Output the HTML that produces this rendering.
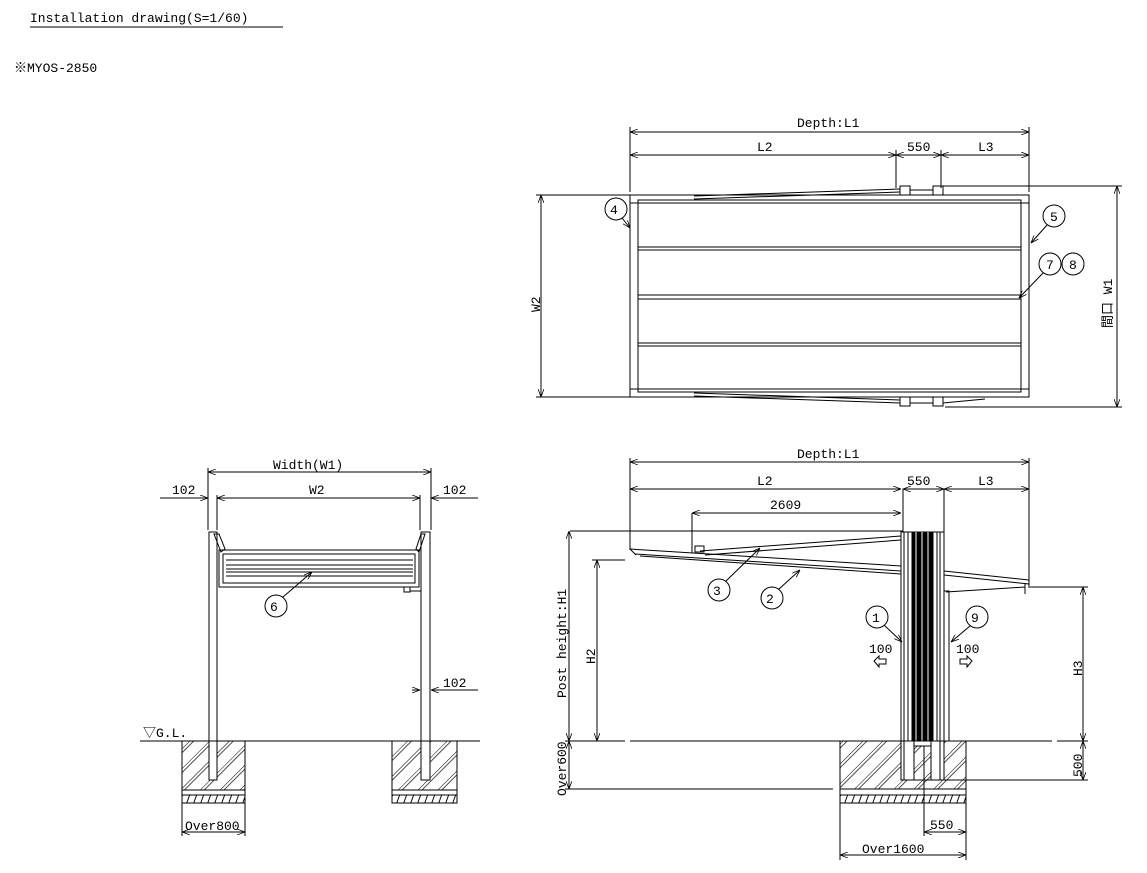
<!DOCTYPE html>
<html><head><meta charset="utf-8"><style>
html,body{margin:0;padding:0;background:#fff;}
svg{display:block;}
text{font-family:"Liberation Mono","Noto Sans CJK JP",monospace;font-size:13px;fill:#000;}
</style></head><body>
<svg width="1147" height="873" viewBox="0 0 1147 873" xmlns="http://www.w3.org/2000/svg">
<defs>
<marker id="a" markerWidth="8" markerHeight="6" refX="8" refY="3" orient="auto-start-reverse" markerUnits="userSpaceOnUse"><path d="M0,0 L8,3 L0,6" fill="none" stroke="#000" stroke-width="0.8"/></marker>
<pattern id="h" width="14" height="14" patternUnits="userSpaceOnUse" patternTransform="rotate(45)"><line x1="0" y1="0" x2="0" y2="14" stroke="#000" stroke-width="1"/><line x1="3" y1="0" x2="3" y2="14" stroke="#000" stroke-width="0.7"/></pattern>
<pattern id="g" width="7" height="8" patternUnits="userSpaceOnUse" patternTransform="skewX(-20)"><line x1="3" y1="0" x2="3" y2="8" stroke="#000" stroke-width="1"/></pattern>
</defs>
<g stroke="#000" fill="none" stroke-width="1">
<line x1="30" y1="27" x2="283" y2="27"/>

<line x1="630" y1="132" x2="1029" y2="132" marker-start="url(#a)" marker-end="url(#a)"/>
<line x1="630" y1="155" x2="896" y2="155" marker-start="url(#a)" marker-end="url(#a)"/>
<line x1="896" y1="155" x2="941" y2="155" marker-start="url(#a)" marker-end="url(#a)"/>
<line x1="941" y1="155" x2="1029" y2="155" marker-start="url(#a)" marker-end="url(#a)"/>
<line x1="630" y1="127" x2="630" y2="192"/>
<line x1="1029" y1="127" x2="1029" y2="192"/>
<line x1="896" y1="150" x2="896" y2="188"/>
<line x1="941" y1="150" x2="941" y2="188"/>
<rect x="630" y="195" width="399" height="202"/>
<rect x="638" y="200" width="383" height="192"/>
<line x1="630" y1="203" x2="1029" y2="203"/>
<line x1="630" y1="389" x2="1029" y2="389"/>
<line x1="638" y1="247" x2="1021" y2="247"/><line x1="638" y1="250" x2="1021" y2="250"/>
<line x1="638" y1="295" x2="1021" y2="295"/><line x1="638" y1="299" x2="1021" y2="299"/>
<line x1="638" y1="343" x2="1021" y2="343"/><line x1="638" y1="346" x2="1021" y2="346"/>
<line x1="694" y1="196" x2="900" y2="189"/><line x1="694" y1="199" x2="900" y2="192"/>
<rect x="900" y="186" width="10" height="9"/><rect x="933" y="186" width="10" height="9"/><line x1="910" y1="190" x2="933" y2="190"/>
<line x1="694" y1="396" x2="900" y2="403"/><line x1="694" y1="393" x2="900" y2="400"/>
<rect x="900" y="397" width="10" height="9"/><rect x="933" y="397" width="10" height="9"/><line x1="910" y1="403" x2="933" y2="403"/>
<line x1="943" y1="403" x2="985" y2="399"/>
<line x1="541" y1="195" x2="541" y2="397" marker-start="url(#a)" marker-end="url(#a)"/>
<line x1="536" y1="195" x2="630" y2="195"/><line x1="536" y1="397" x2="630" y2="397"/>
<line x1="1117" y1="186" x2="1117" y2="407" marker-start="url(#a)" marker-end="url(#a)"/>
<line x1="941" y1="186" x2="1122" y2="186"/><line x1="945" y1="407" x2="1122" y2="407"/>
<circle cx="616" cy="209" r="11"/><line x1="622" y1="218" x2="630" y2="228" marker-end="url(#a)"/>
<circle cx="1054" cy="216" r="11"/><line x1="1047" y1="225" x2="1031" y2="243" marker-end="url(#a)"/>
<circle cx="1050" cy="264" r="11"/><circle cx="1073" cy="264" r="11"/><line x1="1043" y1="273" x2="1019" y2="298" marker-end="url(#a)"/>

<line x1="208" y1="472" x2="431" y2="472" marker-start="url(#a)" marker-end="url(#a)"/>
<line x1="160" y1="498" x2="208" y2="498" marker-end="url(#a)"/>
<line x1="217" y1="498" x2="420" y2="498" marker-start="url(#a)" marker-end="url(#a)"/>
<line x1="478" y1="498" x2="431" y2="498" marker-end="url(#a)"/>
<line x1="208" y1="468" x2="208" y2="530"/><line x1="217" y1="495" x2="217" y2="530"/>
<line x1="420" y1="495" x2="420" y2="530"/><line x1="431" y1="468" x2="431" y2="530"/>
<rect x="209" y="532" width="8" height="248"/>
<rect x="421" y="532" width="9" height="248"/>
<path d="M214,534 L219,534 L225,549 L221,552 Z"/>
<path d="M425,534 L421,534 L416,549 L419,552 Z"/>
<rect x="219" y="550" width="200" height="37"/>
<rect x="223" y="554" width="192" height="29"/>
<line x1="226" y1="560" x2="413" y2="560"/><line x1="226" y1="565" x2="413" y2="565"/>
<line x1="226" y1="569" x2="413" y2="569"/><line x1="226" y1="572" x2="413" y2="572"/>
<line x1="226" y1="576" x2="413" y2="576"/>
<rect x="404" y="587" width="6" height="5"/><line x1="410" y1="591" x2="421" y2="591"/>
<circle cx="276" cy="606" r="11"/><line x1="283" y1="597" x2="312" y2="572" marker-end="url(#a)"/>
<line x1="478" y1="690" x2="431" y2="690" marker-end="url(#a)"/>
<line x1="412" y1="690" x2="420" y2="690" marker-end="url(#a)"/>
<line x1="140" y1="741" x2="480" y2="741"/>
<rect x="182" y="741" width="63" height="49" fill="url(#h)"/>
<rect x="209" y="741" width="8" height="39" fill="#fff"/>
<rect x="182" y="790" width="63" height="13"/><rect x="182" y="795" width="63" height="8" fill="url(#g)"/>
<rect x="392" y="741" width="65" height="49" fill="url(#h)"/>
<rect x="421" y="741" width="9" height="39" fill="#fff"/>
<rect x="392" y="790" width="65" height="13"/><rect x="392" y="795" width="65" height="8" fill="url(#g)"/>
<line x1="182" y1="803" x2="182" y2="836"/><line x1="245" y1="803" x2="245" y2="836"/>
<line x1="182" y1="832" x2="245" y2="832" marker-start="url(#a)" marker-end="url(#a)"/>

<line x1="630" y1="462" x2="1029" y2="462" marker-start="url(#a)" marker-end="url(#a)"/>
<line x1="630" y1="489" x2="901" y2="489" marker-start="url(#a)" marker-end="url(#a)"/>
<line x1="903" y1="489" x2="944" y2="489" marker-start="url(#a)" marker-end="url(#a)"/>
<line x1="944" y1="489" x2="1029" y2="489" marker-start="url(#a)" marker-end="url(#a)"/>
<line x1="630" y1="458" x2="630" y2="550"/><line x1="1029" y1="458" x2="1029" y2="588"/>
<line x1="692" y1="513" x2="901" y2="513" marker-start="url(#a)" marker-end="url(#a)"/>
<line x1="692" y1="513" x2="692" y2="553"/>
<rect x="903" y="489" width="41" height="43"/>
<line x1="570" y1="531" x2="903" y2="531"/>
<rect x="901" y="532" width="43" height="248"/>
<rect x="912" y="532" width="21" height="209" fill="#000"/>
<line x1="904" y1="532" x2="904" y2="780"/><line x1="908" y1="532" x2="908" y2="780"/>
<line x1="937" y1="532" x2="937" y2="741"/><line x1="940" y1="532" x2="940" y2="741"/>
<line x1="916" y1="532" x2="916" y2="741" stroke="#fff"/><line x1="922" y1="532" x2="922" y2="741" stroke="#fff"/><line x1="928" y1="532" x2="928" y2="741" stroke="#fff"/>
<path d="M630,549 L901,566 M635,554 L901,571 M640,556 L901,574"/>
<path d="M944,571 L1029,580 M944,575 L1029,584"/>
<path d="M630,549 L636,555"/>
<path d="M700,551 L901,536 M705,555 L901,540"/>
<rect x="695" y="546" width="9" height="6"/>
<path d="M946,592 L1025,587 M1025,583 L1025,594"/>
<rect x="944" y="591" width="5" height="150"/>
<circle cx="719" cy="590" r="11"/><line x1="726" y1="581" x2="760" y2="548" marker-end="url(#a)"/>
<circle cx="772" cy="598" r="11"/><line x1="779" y1="589" x2="800" y2="570" marker-end="url(#a)"/>
<circle cx="877" cy="617" r="11"/><line x1="884" y1="625" x2="902" y2="642" marker-end="url(#a)"/>
<circle cx="977" cy="617" r="11"/><line x1="970" y1="626" x2="951" y2="642" marker-end="url(#a)"/>
<path d="M874,661 L879,656 L879,659 L886,659 L886,664 L879,664 L879,667 Z"/>
<path d="M972,661 L967,656 L967,659 L960,659 L960,664 L967,664 L967,667 Z"/>
<line x1="569" y1="531" x2="569" y2="741" marker-start="url(#a)" marker-end="url(#a)"/>
<line x1="597" y1="560" x2="597" y2="741" marker-start="url(#a)" marker-end="url(#a)"/>
<line x1="592" y1="560" x2="625" y2="560"/>
<line x1="1083" y1="587" x2="1083" y2="741" marker-start="url(#a)" marker-end="url(#a)"/>
<line x1="1030" y1="587" x2="1088" y2="587"/>
<line x1="1083" y1="741" x2="1083" y2="780" marker-start="url(#a)" marker-end="url(#a)"/>
<line x1="944" y1="780" x2="1088" y2="780"/>
<line x1="569" y1="741" x2="569" y2="789" marker-start="url(#a)" marker-end="url(#a)"/>
<line x1="565" y1="789" x2="833" y2="789"/>
<line x1="565" y1="741" x2="625" y2="741"/><line x1="630" y1="741" x2="1052" y2="741"/><line x1="1057" y1="741" x2="1088" y2="741"/>
<rect x="840" y="741" width="126" height="48" fill="url(#h)"/>
<rect x="901" y="741" width="13" height="39" fill="#fff"/><rect x="931" y="741" width="13" height="39" fill="#fff"/>
<rect x="914" y="741" width="17" height="5" fill="#fff"/>
<line x1="904" y1="741" x2="904" y2="780"/><line x1="940" y1="741" x2="940" y2="780"/>
<line x1="924" y1="746" x2="924" y2="836"/>
<rect x="840" y="789" width="126" height="14"/><rect x="840" y="795" width="126" height="8" fill="url(#g)"/>
<line x1="840" y1="803" x2="840" y2="860"/><line x1="966" y1="803" x2="966" y2="860"/>
<line x1="924" y1="832" x2="966" y2="832" marker-start="url(#a)" marker-end="url(#a)"/>
<line x1="840" y1="855" x2="966" y2="855" marker-start="url(#a)" marker-end="url(#a)"/>
</g>
<g>
<text x="30" y="22">Installation drawing(S=1/60)</text>
<text x="14" y="72">※MYOS-2850</text>
<text x="797" y="127">Depth:L1</text>
<text x="757" y="151">L2</text>
<text x="907" y="151">550</text>
<text x="978" y="151">L3</text>
<text x="610" y="214" font-size="12">4</text>
<text x="1050" y="221" font-size="12">5</text>
<text x="1046" y="269" font-size="12">7</text><text x="1069" y="269" font-size="12">8</text>
<text transform="translate(540,312) rotate(-90)">W2</text>
<text transform="translate(1112,328) rotate(-90)">間口 W1</text>
<text x="273" y="469">Width(W1)</text>
<text x="172" y="494">102</text>
<text x="309" y="494">W2</text>
<text x="443" y="494">102</text>
<text x="270" y="611" font-size="12">6</text>
<text x="443" y="687">102</text>
<text x="143" y="737">▽G.L.</text>
<text x="185" y="830">Over800</text>
<text x="797" y="458">Depth:L1</text>
<text x="757" y="485">L2</text>
<text x="907" y="485">550</text>
<text x="978" y="485">L3</text>
<text x="770" y="509">2609</text>
<text x="713" y="595" font-size="12">3</text>
<text x="766" y="603" font-size="12">2</text>
<text x="872" y="622" font-size="12">1</text>
<text x="971" y="622" font-size="12">9</text>
<text x="869" y="653">100</text>
<text x="956" y="653">100</text>
<text transform="translate(566,698) rotate(-90)">Post height:H1</text>
<text transform="translate(595,664) rotate(-90)">H2</text>
<text transform="translate(1082,676) rotate(-90)">H3</text>
<text transform="translate(1082,777) rotate(-90)">500</text>
<text transform="translate(566,796) rotate(-90)">Over600</text>
<text x="930" y="829">550</text>
<text x="862" y="853">Over1600</text>
</g>
</svg>
</body></html>
